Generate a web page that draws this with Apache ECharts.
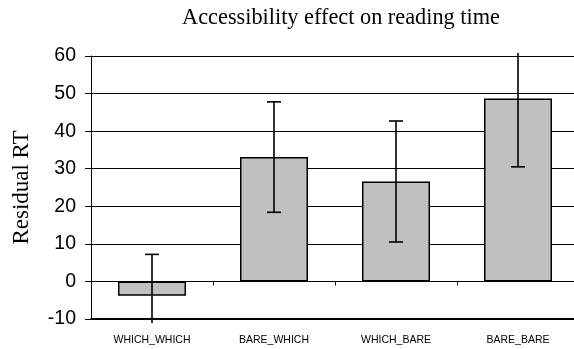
<!DOCTYPE html>
<html>
<head>
<meta charset="utf-8">
<script src="https://cdn.jsdelivr.net/npm/echarts@6/dist/echarts.min.js"></script>
<style>
  html, body { margin: 0; padding: 0; background: #fff; }
  #chart { width: 574px; height: 349px; }
</style>
</head>
<body>
<div id="chart"></div>
<script>
// Conditions and mean residual reading times with their error margins
const categories = ['WHICH_WHICH', 'BARE_WHICH', 'WHICH_BARE', 'BARE_BARE'];
const meanRT = [-3.8, 33.1, 26.6, 48.7];
const errorRT = [11.0, 14.7, 16.1, 18.2];
const yTicks = { min: -10, max: 60, step: 10 };

const chart = echarts.init(document.getElementById('chart'), null, { renderer: 'canvas' });

const errorData = categories.map((c, i) => [i, meanRT[i] - errorRT[i], meanRT[i] + errorRT[i]]);

// Error bars; whiskers running past the plot frame are cut just outside it
function renderErrorBar(params, api) {
  const x = api.value(0);
  const lo = api.coord([x, api.value(1)]);
  const hi = api.coord([x, api.value(2)]);
  const cs = params.coordSys;
  const top = cs.y - 3, bottom = cs.y + cs.height + 4;
  const cx = lo[0];
  const yHi = Math.max(hi[1], top);
  const yLo = Math.min(lo[1], bottom);
  const cap = 7;
  const style = { stroke: '#000', lineWidth: 1.6 };
  const children = [
    { type: 'line', shape: { x1: cx, y1: yHi, x2: cx, y2: yLo }, style }
  ];
  if (hi[1] >= top) children.push({ type: 'line', shape: { x1: cx - cap, y1: hi[1], x2: cx + cap, y2: hi[1] }, style });
  if (lo[1] <= bottom) children.push({ type: 'line', shape: { x1: cx - cap, y1: lo[1], x2: cx + cap, y2: lo[1] }, style });
  return { type: 'group', children };
}

chart.setOption({
  animation: false,
  title: {
    text: 'Accessibility effect on reading time',
    left: 336,
    textAlign: 'center',
    top: 2,
    textStyle: { fontFamily: 'Liberation Serif', fontSize: 22.3, fontWeight: 'normal', color: '#000' }
  },
  grid: { left: 91, top: 56, right: -5, bottom: 30, containLabel: false, outerBoundsMode: 'none' },
  xAxis: [
    {
      type: 'category',
      data: categories,
      position: 'bottom',
      axisLine: { onZero: false, lineStyle: { color: '#000', width: 2 } },
      axisTick: { show: false },
      axisLabel: { margin: 16, fontFamily: 'Liberation Sans', fontSize: 10.5, color: '#000' }
    },
    {
      type: 'category',
      data: categories,
      position: 'bottom',
      axisLine: { onZero: true, lineStyle: { color: '#000', width: 1 } },
      axisTick: { show: true, length: 4, lineStyle: { color: '#000' } },
      axisLabel: { show: false }
    }
  ],
  yAxis: {
    type: 'value',
    min: yTicks.min,
    max: yTicks.max,
    interval: yTicks.step,
    name: 'Residual RT',
    nameLocation: 'middle',
    nameGap: 58,
    nameTextStyle: { fontFamily: 'Liberation Serif', fontSize: 23, color: '#000' },
    axisLine: { show: true, lineStyle: { color: '#000', width: 1 } },
    axisTick: { show: true, length: 6, lineStyle: { color: '#000' } },
    axisLabel: { margin: 15, fontFamily: 'Liberation Sans', fontSize: 19.5, color: '#000' },
    splitLine: { show: true, lineStyle: { color: '#000', width: 1 } }
  },
  series: [
    {
      type: 'bar',
      data: meanRT,
      barWidth: 68,
      itemStyle: { color: '#c0c0c0', borderColor: '#000', borderWidth: 1.5 }
    },
    {
      type: 'custom',
      data: errorData,
      renderItem: renderErrorBar,
      encode: { x: 0, y: [1, 2] },
      clip: false,
      z: 5
    }
  ]
});
</script>
</body>
</html>
